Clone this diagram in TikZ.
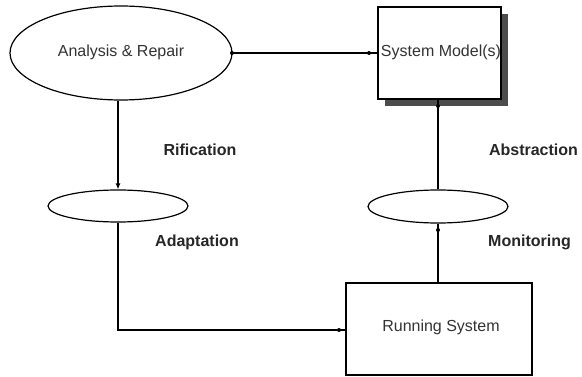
\documentclass[tikz,border=0pt]{standalone}
\usepackage{fontspec}
\setmainfont{Liberation Sans}
\usetikzlibrary{shapes.geometric,arrows.meta}
\begin{document}
\begin{tikzpicture}[x=1pt,y=-1pt,
  line/.style={draw=black,line width=1.2pt},
  oval/.style={ellipse,draw=black,line width=1.2pt,inner sep=0pt,fill=white},
  box/.style={rectangle,draw=black,line width=1.4pt,fill=white,inner sep=0pt},
  lbl/.style={font=\fontsize{16}{18}\selectfont\bfseries,text=black!85},
  txt/.style={font=\fontsize{16}{18}\selectfont,text=black!80},
  dot/.style={circle,fill=black,inner sep=0pt,minimum size=4pt}]
\useasboundingbox (0,0) rectangle (582,377);
% shadow
\fill[black!70] (385,14) rectangle (508,106);
\node[box,minimum width=123pt,minimum height=92pt] (sm) at (439.5,53) {};
\node[txt] (smt) at (441,52) {System Model(s)};
\node[oval,minimum width=222pt,minimum height=94pt] (ar) at (121,53) {};
\node[txt] (art) at (121,52) {Analysis \& Repair};
\node[oval,minimum width=140pt,minimum height=32pt] (ad) at (118,206) {};
\node[oval,minimum width=140pt,minimum height=33pt] (mo) at (438,206.5) {};
\node[box,minimum width=186pt,minimum height=92pt] (rs) at (439,329) {};
\node[txt] (rst) at (441,327) {Running System};
% labels
\node[lbl] (l1) at (200,150) {Rification};
\node[lbl] (l2) at (533.5,150) {Abstraction};
\node[lbl] (l3) at (197,242) {Adaptation};
\node[lbl] (l4) at (529.5,242) {Monitoring};
% connectors
\draw[line] (ar.east) -- (sm.west);
\node[dot] (d1) at (232,53) {};
\node[dot] (d2) at (369,53) {};
\draw[line,-{Latex[length=6pt,width=5pt]}] (ar.south -| ad.north) -- (ad.north);
\coordinate (c1) at (118,330);
\draw[line] (ad.south) -- (c1) -- (rs.west |- c1);
\node[dot] (d3) at (339,330) {};
\draw[line] (rs.north -| mo.south) -- (mo.south);
\node[dot] (d4) at (438,230) {};
\draw[line] (mo.north) -- (mo.north |- sm.south);
\node[dot] (d5) at (438,106) {};
\end{tikzpicture}
\end{document}
